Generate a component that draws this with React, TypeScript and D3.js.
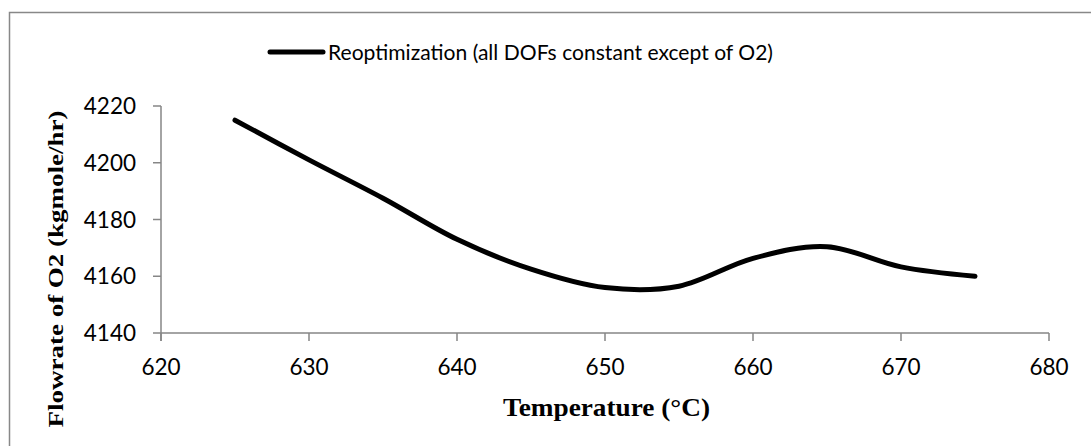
import React from "react";
import * as d3 from "d3";

const temperatures = [625, 630, 635, 640, 645, 650, 655, 660, 665, 670, 675];
const o2Flow = [4215, 4201, 4187.5, 4173, 4162.5, 4156, 4156.5, 4166.3, 4170.4, 4163.3, 4160];
const xTicks = [620, 630, 640, 650, 660, 670, 680];
const yTicks = [4140, 4160, 4180, 4200, 4220];
const seriesName = "Reoptimization (all DOFs constant except of O2)";
const xTitle = "Temperature (°C)";
const yTitle = "Flowrate of O2 (kgmole/hr)";

export default function App() {
  const W = 1091, H = 446;
  const x = d3.scaleLinear().domain([620, 680]).range([161, 1049]);
  const y = d3.scaleLinear().domain([4140, 4220]).range([333, 106]);
  const axisColor = "#868686";
  const line = d3
    .line<number>()
    .x((_, i) => x(temperatures[i]))
    .y((d) => y(d))
    .curve(d3.curveCardinal.tension(0));
  const sans = "Lato, 'Open Sans', sans-serif";
  const serif = "'Liberation Serif', 'Times New Roman', serif";
  return (
    <svg
      width={W}
      height={H}
      style={{ position: "absolute", left: 0, top: 0, background: "#fff" }}
    >
      <rect x={9.5} y={12.5} width={W + 20} height={H + 20} fill="none" stroke="#888" strokeWidth={1.5} />
      {/* legend */}
      <line x1={270} x2={323} y1={52} y2={52} stroke="#000" strokeWidth={5} strokeLinecap="round" />
      <text x={328} y={60} fontFamily={sans} fontSize={22} fill="#000" textLength={445} lengthAdjust="spacingAndGlyphs">
        {seriesName}
      </text>
      {/* y axis */}
      <line x1={x(620)} x2={x(620)} y1={y(4220)} y2={y(4140) + 8} stroke={axisColor} strokeWidth={1.5} />
      {yTicks.map((t) => (
        <g key={"y" + t}>
          <line x1={x(620) - 8} x2={x(620)} y1={y(t)} y2={y(t)} stroke={axisColor} strokeWidth={1.5} />
          <text x={136} y={y(t)} dy="0.36em" textAnchor="end" fontFamily={sans} fontSize={22.5} fill="#000">
            {t}
          </text>
        </g>
      ))}
      {/* x axis */}
      <line x1={x(620)} x2={x(680)} y1={y(4140)} y2={y(4140)} stroke={axisColor} strokeWidth={1.5} />
      {xTicks.map((t) => (
        <g key={"x" + t}>
          <line x1={x(t)} x2={x(t)} y1={y(4140)} y2={y(4140) + 8} stroke={axisColor} strokeWidth={1.5} />
          <text x={x(t)} y={375} textAnchor="middle" fontFamily={sans} fontSize={22.5} fill="#000">
            {t}
          </text>
        </g>
      ))}
      {/* series */}
      <path d={line(o2Flow) || ""} fill="none" stroke="#000" strokeWidth={5} strokeLinecap="round" strokeLinejoin="round" />
      {/* titles */}
      <text x={606.5} y={416} textAnchor="middle" fontFamily={serif} fontWeight="bold" fontSize={26} fill="#000" textLength={207} lengthAdjust="spacingAndGlyphs">
        {xTitle}
      </text>
      <text
        transform={`translate(63,269) rotate(-90)`}
        textAnchor="middle"
        fontFamily={serif}
        fontWeight="bold"
        fontSize={20}
        fill="#000"
        textLength={317}
        lengthAdjust="spacingAndGlyphs"
      >
        {yTitle}
      </text>
    </svg>
  );
}
